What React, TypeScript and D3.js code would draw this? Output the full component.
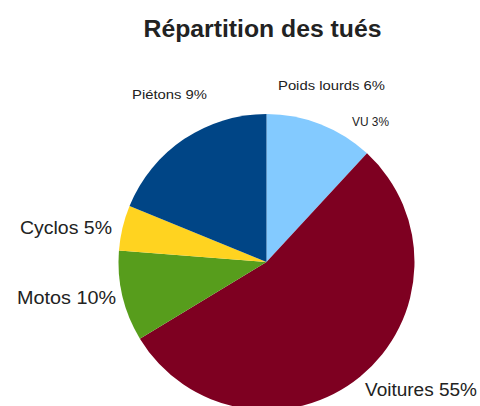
import React from 'react';
import * as d3 from 'd3';

// slices, clockwise from 12 o'clock (shares measured on the picture)
const categories = ['Poids lourds / VU', 'Voitures', 'Motos', 'Cyclos', 'Piétons'];
const shares = [12, 55, 10, 5, 19];
const colors = ['#83caff', '#7e0021', '#579d1c', '#ffd320', '#004586'];

// labels as printed on the chart
const labelTexts = ['Poids lourds 6%', 'VU 3%', 'Voitures 55%', 'Motos 10%', 'Cyclos 5%', 'Piétons 9%'];

const W = 480;
const H = 406;
const cx = 266.5;
const cy = 262;
const R = 148;

// label placement: x, baseline, width, font size
const labelBoxes = [
  { x: 278, y: 90, w: 107, fs: 13 },
  { x: 352, y: 126, w: 37, fs: 13 },
  { x: 365, y: 396, w: 112, fs: 18 },
  { x: 17, y: 303.5, w: 99, fs: 18 },
  { x: 20, y: 233.5, w: 92, fs: 18 },
  { x: 132, y: 98.5, w: 75, fs: 13 },
];

const App: React.FC = () => {
  const pie = d3.pie<number>().sort(null).value(d => d);
  const arcs = pie(shares);
  const arc = d3.arc<d3.PieArcDatum<number>>().innerRadius(0).outerRadius(R);

  return (
    <svg
      width={W}
      height={H}
      viewBox={`0 0 ${W} ${H}`}
      style={{ position: 'absolute', left: 0, top: 0, background: '#fff' }}
      fontFamily="'Liberation Sans', Arial, sans-serif"
    >
      <text
        x={262.5}
        y={37}
        textAnchor="middle"
        fontSize={23}
        fontWeight="bold"
        fill="#222"
        textLength={238}
        lengthAdjust="spacingAndGlyphs"
      >
        Répartition des tués
      </text>

      <g transform={`translate(${cx},${cy})`}>
        {arcs.map((a, i) => (
          <path key={categories[i]} d={arc(a) ?? ''} fill={colors[i]} />
        ))}
      </g>

      {labelTexts.map((t, i) => {
        const b = labelBoxes[i];
        return (
          <text
            key={t}
            x={b.x}
            y={b.y}
            fontSize={b.fs}
            fill="#222"
            textLength={b.w}
            lengthAdjust="spacingAndGlyphs"
          >
            {t}
          </text>
        );
      })}
    </svg>
  );
};

export default App;
